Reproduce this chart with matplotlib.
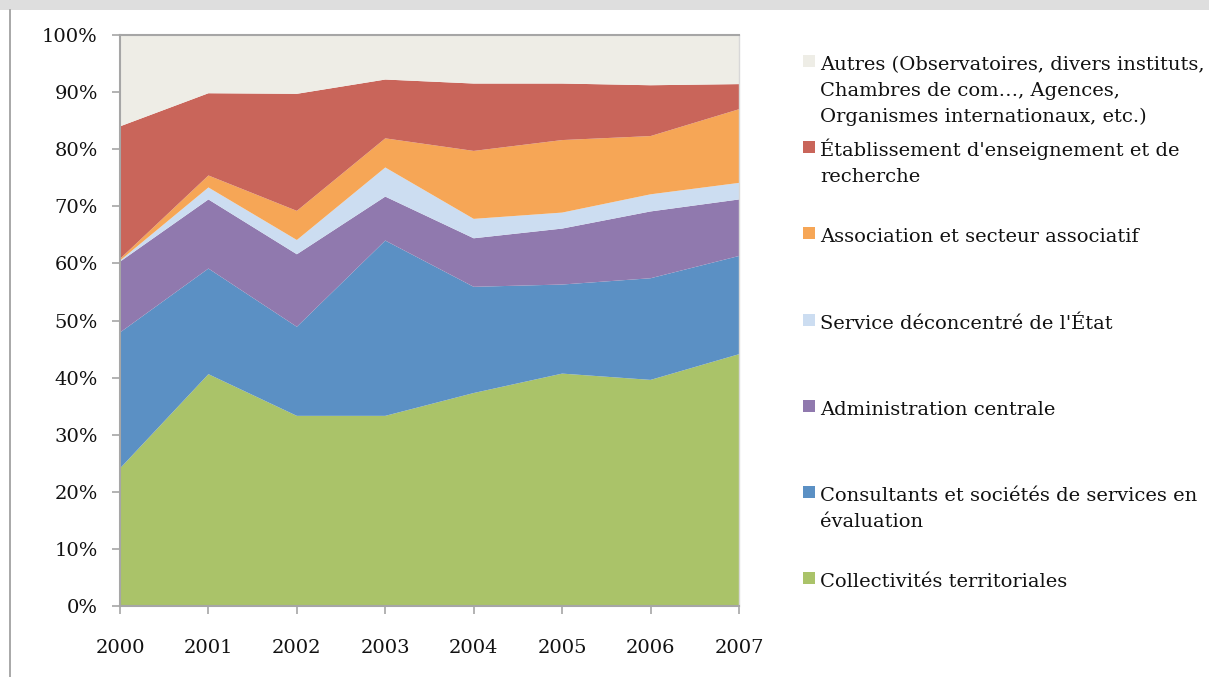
import numpy as np
import matplotlib
matplotlib.use("Agg")
import matplotlib.pyplot as plt
from matplotlib.patches import Rectangle
from matplotlib.lines import Line2D
from matplotlib.ticker import FuncFormatter

# Données (parts en %)
annees = [2000, 2001, 2002, 2003, 2004, 2005, 2006, 2007]
collectivites = [24.1, 40.6, 33.3, 33.3, 37.3, 40.7, 39.6, 44.1]
consultants = [23.8, 18.5, 15.6, 30.7, 18.6, 15.6, 17.8, 17.2]
administration = [12.4, 12.1, 12.7, 7.7, 8.5, 9.8, 11.7, 9.9]
service_etat = [0.2, 2.1, 2.5, 5.1, 3.4, 2.8, 3.0, 2.9]
association = [0.3, 2.1, 5.1, 5.1, 11.9, 12.7, 10.2, 12.9]
etablissement = [23.2, 14.4, 20.5, 10.3, 11.8, 9.9, 8.9, 4.4]
autres = [16.0, 10.2, 10.3, 7.8, 8.5, 8.5, 8.8, 8.6]

series = [collectivites, consultants, administration, service_etat,
          association, etablissement, autres]
couleurs = ["#aac369", "#5b90c4", "#9079ae", "#ccddf1",
            "#f6a656", "#c9655a", "#eeede6"]
libelles = [
    "Collectivités territoriales",
    "Consultants et sociétés de services en\névaluation",
    "Administration centrale",
    "Service déconcentré de l'État",
    "Association et secteur associatif",
    "Établissement d'enseignement et de\nrecherche",
    "Autres (Observatoires, divers instituts,\nChambres de com…, Agences,\nOrganismes internationaux, etc.)",
]

plt.rcParams['font.family'] = ['DejaVu Serif']

W, H = 1209, 677
fig = plt.figure(figsize=(W / 100, H / 100), dpi=100)
fig.patch.set_facecolor("white")

# bandeau gris en haut et filet vertical à gauche
fig.patches.append(Rectangle((0, 1 - 10 / H), 1, 10 / H, transform=fig.transFigure,
                             facecolor="#dedede", edgecolor="none"))
fig.lines.append(Line2D([9.5 / W, 9.5 / W], [0, 1 - 10 / H], transform=fig.transFigure,
                        color="#9a9a9a", linewidth=1.2))

ax = fig.add_axes([120 / W, (H - 606) / H, (739 - 120) / W, (606 - 35) / H])

# normalisation à 100 %
data = np.array(series, dtype=float)
data = data / data.sum(axis=0) * 100
ax.stackplot(annees, data, colors=couleurs, linewidth=0)

ax.set_xlim(2000, 2007)
ax.set_ylim(0, 100)
ax.set_xticks(annees)
ax.set_yticks(np.arange(0, 101, 10))
ax.yaxis.set_major_formatter(FuncFormatter(lambda v, p: f"{int(v)}%"))

gris = "#a6a6a6"
for s in ["left", "bottom", "top"]:
    ax.spines[s].set_color(gris)
    ax.spines[s].set_linewidth(1.5)
ax.spines["right"].set_color("#d8d8d8")
ax.spines["right"].set_linewidth(1.0)
ax.tick_params(axis="both", direction="out", length=6, width=1.2, color=gris,
               labelsize=14, labelcolor="#111111")
ax.tick_params(axis="y", pad=10)
ax.tick_params(axis="x", pad=18)

# légende à droite, une ligne de texte à la fois
base0 = 70
ecart = 86.2
interligne = 26
for i, (lab, col) in enumerate(zip(libelles[::-1], couleurs[::-1])):
    yb = base0 + i * ecart
    for k, ligne in enumerate(lab.split("\n")):
        fig.text(820 / W, 1 - (yb + k * interligne) / H, ligne, fontsize=14,
                 va="baseline", ha="left", color="#111111")
    fig.patches.append(Rectangle((803 / W, 1 - (yb - 3) / H), 12 / W, 12 / H,
                                 transform=fig.transFigure, facecolor=col,
                                 edgecolor="none"))

fig.savefig("out.png", dpi=100)
